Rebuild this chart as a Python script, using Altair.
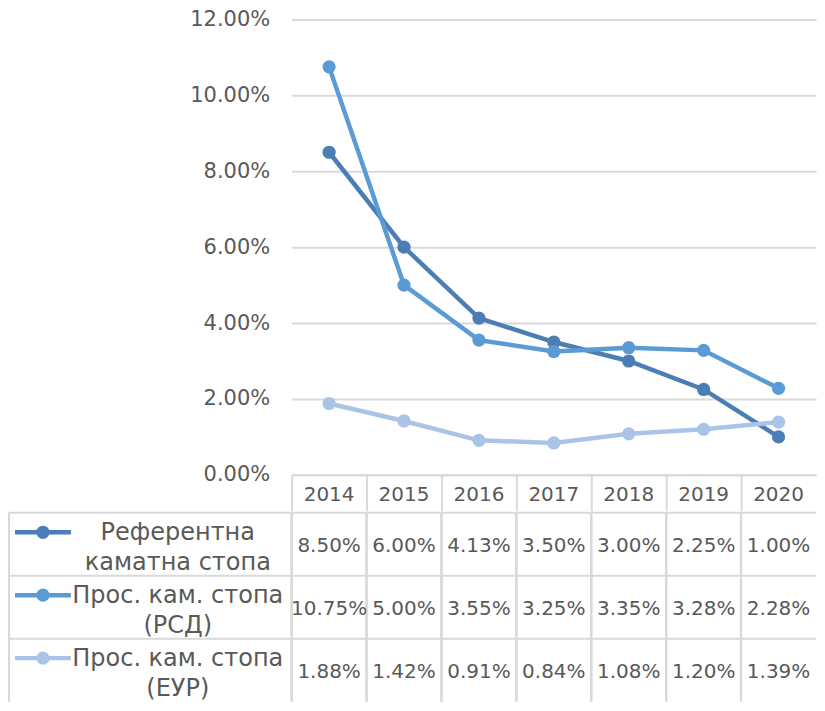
import altair as alt
import pandas as pd

FONT = "DejaVu Sans"
TEXT_COLOR = "#595959"
GRID_COLOR = "#d9d9d9"

years = ["2014", "2015", "2016", "2017", "2018", "2019", "2020"]
series_names = [
    "Референтна каматна стопа",
    "Прос. кам. стопа (РСД)",
    "Прос. кам. стопа (ЕУР)",
]
legend_labels = [
    "Референтна\nкаматна стопа",
    "Прос. кам. стопа\n(РСД)",
    "Прос. кам. стопа\n(ЕУР)",
]
ref_rate = [8.50, 6.00, 4.13, 3.50, 3.00, 2.25, 1.00]
rsd_rate = [10.75, 5.00, 3.55, 3.25, 3.35, 3.28, 2.28]
eur_rate = [1.88, 1.42, 0.91, 0.84, 1.08, 1.20, 1.39]
colors = ["#4a7eb5", "#5b9bd5", "#aac4e8"]
y_ticks = [0, 0.02, 0.04, 0.06, 0.08, 0.10, 0.12]

records = []
for name, vals in zip(series_names, [ref_rate, rsd_rate, eur_rate]):
    for yr, v in zip(years, vals):
        records.append({"series": name, "year": yr, "value": v / 100})
df = pd.DataFrame(records)
leg_df = pd.DataFrame({"series": series_names, "label": legend_labels})

PLOT_W = 525
PLOT_H = 456
LEFT_W = 283
TABLE_H = 189

color = alt.Color("series:N", scale=alt.Scale(domain=series_names, range=colors), legend=None)

# ---------------- line chart (with year header as its x axis) ----------------
x_top = alt.X(
    "year:O",
    sort=years,
    scale=alt.Scale(type="band", paddingInner=0, paddingOuter=0),
    axis=alt.Axis(
        title=None,
        bandPosition=0,
        ticks=True,
        tickSize=36,
        tickColor=GRID_COLOR,
        tickWidth=2,
        domain=True,
        domainColor=GRID_COLOR,
        domainWidth=2,
        grid=False,
        labelAngle=0,
        labelPadding=-16,
        labelBaseline="middle",
        labelFontSize=20,
        labelColor=TEXT_COLOR,
        labelFont=FONT,
    ),
)
y_top = alt.Y(
    "value:Q",
    scale=alt.Scale(domain=[0, 0.12], nice=False),
    axis=alt.Axis(
        title=None,
        values=y_ticks,
        format=".2%",
        ticks=False,
        domain=False,
        grid=True,
        gridColor=GRID_COLOR,
        gridWidth=2,
        labelFontSize=21,
        labelColor=TEXT_COLOR,
        labelFont=FONT,
        labelPadding=22,
    ),
)

base = alt.Chart(df)
lines = base.mark_line(strokeWidth=4.5).encode(x=x_top, y=y_top, color=color)
points = base.mark_circle(size=175, opacity=1).encode(x=x_top, y=y_top, color=color)
top = alt.layer(lines, points).properties(width=PLOT_W, height=PLOT_H)

# ---------------- data table with legend column ----------------
row_y = alt.Y(
    "series:N",
    sort=series_names,
    scale=alt.Scale(type="band", paddingInner=0, paddingOuter=0),
    axis=None,
)
row_y_start = alt.Y(
    "series:N",
    sort=series_names,
    scale=alt.Scale(type="band", paddingInner=0, paddingOuter=0),
    axis=None,
    bandPosition=0,
)
x_tab = alt.X(
    "year:O",
    sort=years,
    scale=alt.Scale(type="band", paddingInner=0, paddingOuter=0),
    axis=None,
)
x_tab_start = alt.X(
    "year:O",
    sort=years,
    scale=alt.Scale(type="band", paddingInner=0, paddingOuter=0),
    axis=None,
    bandPosition=0,
)

leg_base = alt.Chart(leg_df)
h_rules = leg_base.mark_rule(color=GRID_COLOR, strokeWidth=2).encode(
    y=row_y_start, x=alt.value(-LEFT_W), x2=alt.value(PLOT_W)
)
left_rule = leg_base.mark_rule(color=GRID_COLOR, strokeWidth=2).encode(
    x=alt.value(-LEFT_W), y=alt.value(0), y2=alt.value(TABLE_H)
)
v_rules = base.mark_rule(color=GRID_COLOR, strokeWidth=2).encode(x=x_tab_start)
leg_line = leg_base.mark_rule(strokeWidth=4.5, yOffset=-12).encode(
    y=row_y, x=alt.value(-LEFT_W + 6), x2=alt.value(-LEFT_W + 62), color=color
)
leg_pt = leg_base.mark_circle(size=175, opacity=1, yOffset=-12).encode(
    y=row_y, x=alt.value(-LEFT_W + 34), color=color
)
leg_text = leg_base.mark_text(
    fontSize=24,
    font=FONT,
    color=TEXT_COLOR,
    lineBreak="\n",
    lineHeight=30,
    align="center",
    baseline="middle",
    dy=-11,
).encode(y=row_y, x=alt.value(-114), text="label:N")
tab_text = base.mark_text(
    fontSize=20, font=FONT, color=TEXT_COLOR, align="center", baseline="middle", dy=2
).encode(x=x_tab, y=row_y, text=alt.Text("value:Q", format=".2%"))

table = alt.layer(h_rules, left_rule, v_rules, leg_line, leg_pt, leg_text, tab_text).properties(
    width=PLOT_W, height=TABLE_H
)

chart = (
    alt.vconcat(top, table, spacing=0)
    .resolve_scale(x="independent", y="independent")
    .properties(padding=0, background="white")
    .configure_view(strokeWidth=0)
)

chart.save("out.html", embed_options={"renderer": "svg", "actions": False})
